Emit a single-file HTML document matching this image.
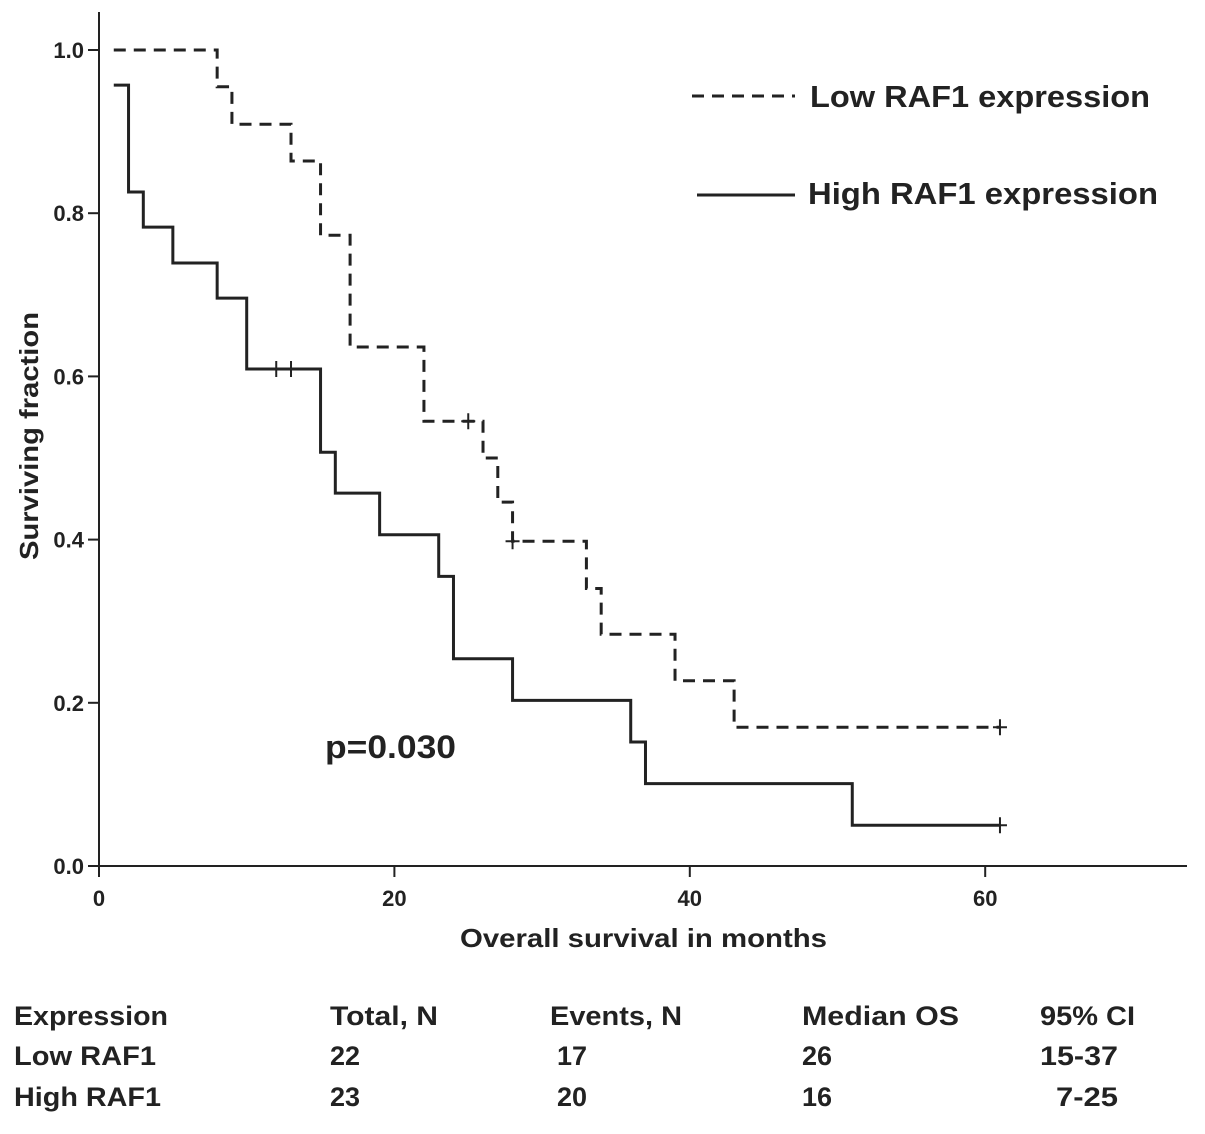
<!DOCTYPE html>
<html><head><meta charset="utf-8"><style>
body{margin:0;background:#fff;}
svg text{font-family:"Liberation Sans",sans-serif;font-weight:bold;fill:#222;}
</style></head><body>
<svg id="chart" width="1205" height="1129" viewBox="0 0 1205 1129">
<g id="axes"></g>
<g id="series"></g>
<text x="0" y="0" font-size="26" textLength="248" lengthAdjust="spacingAndGlyphs" transform="translate(38,436) rotate(-90)" text-anchor="middle">Surviving fraction</text>
<text x="460" y="947" font-size="26" textLength="367" lengthAdjust="spacingAndGlyphs">Overall survival in months</text>
<text x="325" y="758" font-size="32" textLength="131" lengthAdjust="spacingAndGlyphs">p=0.030</text>
<g>
<line x1="692" y1="96" x2="795" y2="96" stroke="#222" stroke-width="3" stroke-dasharray="12,8"/>
<text x="810" y="107" font-size="31" textLength="340" lengthAdjust="spacingAndGlyphs">Low RAF1 expression</text>
<line x1="697" y1="195" x2="795" y2="195" stroke="#222" stroke-width="3"/>
<text x="808" y="204" font-size="31" textLength="350" lengthAdjust="spacingAndGlyphs">High RAF1 expression</text>
</g>
<g font-size="27">
<text x="14" y="1025" textLength="154" lengthAdjust="spacingAndGlyphs">Expression</text><text x="330" y="1025" textLength="108" lengthAdjust="spacingAndGlyphs">Total, N</text><text x="550" y="1025" textLength="132" lengthAdjust="spacingAndGlyphs">Events, N</text><text x="802" y="1025" textLength="157" lengthAdjust="spacingAndGlyphs">Median OS</text><text x="1040" y="1025" textLength="95" lengthAdjust="spacingAndGlyphs">95% CI</text>
<text x="14" y="1065" textLength="142" lengthAdjust="spacingAndGlyphs">Low RAF1</text><text x="330" y="1065">22</text><text x="557" y="1065">17</text><text x="802" y="1065">26</text><text x="1040" y="1065" textLength="78" lengthAdjust="spacingAndGlyphs">15-37</text>
<text x="14" y="1106" textLength="147" lengthAdjust="spacingAndGlyphs">High RAF1</text><text x="330" y="1106">23</text><text x="557" y="1106">20</text><text x="802" y="1106">16</text><text x="1056" y="1106" textLength="62" lengthAdjust="spacingAndGlyphs">7-25</text>
</g>
</svg>
<script>
const xTicks=[0,20,40,60];
const yTicks=[0.0,0.2,0.4,0.6,0.8,1.0];
const lowTimes=[1,8,9,13,15,17,22,26,27,28,33,34,39,43,61];
const lowSurv=[1.0,0.955,0.909,0.864,0.773,0.636,0.545,0.5,0.446,0.398,0.34,0.284,0.227,0.17,0.17];
const lowCensor=[25,28,61];
const highTimes=[1,2,3,5,8,10,15,16,19,23,24,28,36,37,51,61];
const highSurv=[0.957,0.826,0.783,0.739,0.696,0.609,0.507,0.457,0.406,0.355,0.254,0.203,0.152,0.101,0.05,0.05];
const highCensor=[12,13,61];
const X=v=>99+v*14.77, Y=v=>866-v*816;
const NS='http://www.w3.org/2000/svg';
function mk(t,a,p){const e=document.createElementNS(NS,t);for(const k in a)e.setAttribute(k,a[k]);p.appendChild(e);return e;}
const ax=document.getElementById('axes'), se=document.getElementById('series');
let e=mk('line',{x1:99,y1:12,x2:99,y2:866,stroke:'#222','stroke-width':2},ax);


e=mk('line',{x1:99,y1:866,x2:1187,y2:866,stroke:'#222','stroke-width':2},ax);


yTicks.forEach(v=>{
 mk('line',{x1:88,y1:Y(v),x2:99,y2:Y(v),stroke:'#222','stroke-width':2},ax);
 const t=mk('text',{x:84,y:Y(v)+8,'font-size':22,'text-anchor':'end'},ax);t.textContent=v.toFixed(1);
 
 
});
xTicks.forEach(v=>{
 mk('line',{x1:X(v),y1:866,x2:X(v),y2:877,stroke:'#222','stroke-width':2},ax);
 const t=mk('text',{x:X(v),y:906,'font-size':22,'text-anchor':'middle'},ax);t.textContent=v;
 
 
});
function curve(times,surv,cens,dash,name){
 let d='M'+X(times[0])+','+Y(surv[0]);
 for(let i=1;i<times.length;i++){d+=' H'+X(times[i])+' V'+Y(surv[i]);}
 const p=mk('path',{d:d,fill:'none',stroke:'#222','stroke-width':3},se);
 if(dash)p.setAttribute('stroke-dasharray',dash);
 
 
 cens.forEach(c=>{
  let s=surv[0];for(let i=0;i<times.length;i++){if(times[i]<=c)s=surv[i];}
  const m=mk('path',{d:`M${X(c)-7},${Y(s)} H${X(c)+7} M${X(c)},${Y(s)-8} V${Y(s)+8}`,stroke:'#222','stroke-width':2},se);
  
  
 });
}
curve(lowTimes,lowSurv,lowCensor,'12,8','low-raf1');
curve(highTimes,highSurv,highCensor,null,'high-raf1');
</script>
</body></html>
